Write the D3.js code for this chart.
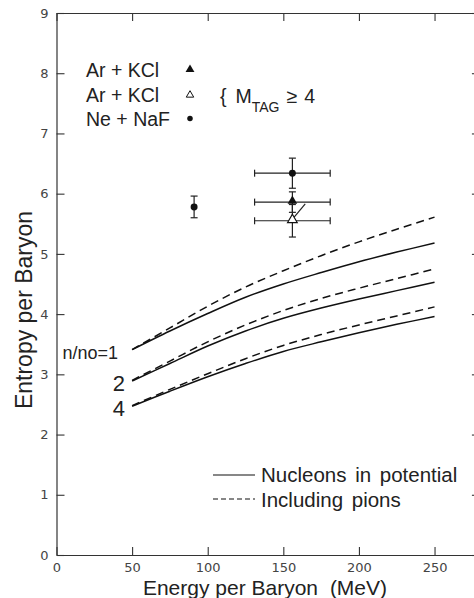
<!DOCTYPE html>
<html><head><meta charset="utf-8">
<script src="https://cdn.jsdelivr.net/npm/d3@7"></script>
<style>
body{margin:0;background:#fff}
text{font-family:"Liberation Sans",Arial,sans-serif;fill:#222}
.tick text{font-family:"DejaVu Sans",sans-serif;fill:#444}
</style></head>
<body><svg id="chart" width="474" height="598"></svg>
<script>
// ---- data ----
const energy = [50, 75, 100, 125, 150, 175, 200, 225, 250];
const n1Nucleons = [3.41, 3.72, 4.01, 4.28, 4.50, 4.69, 4.87, 5.03, 5.18];
const n1Pions    = [3.41, 3.77, 4.13, 4.45, 4.72, 4.97, 5.20, 5.41, 5.61];
const n2Nucleons = [2.89, 3.18, 3.47, 3.72, 3.93, 4.10, 4.25, 4.39, 4.53];
const n2Pions    = [2.90, 3.22, 3.54, 3.82, 4.06, 4.26, 4.43, 4.59, 4.75];
const n4Nucleons = [2.47, 2.72, 2.96, 3.18, 3.38, 3.54, 3.69, 3.83, 3.96];
const n4Pions    = [2.48, 2.75, 3.01, 3.26, 3.48, 3.66, 3.82, 3.97, 4.12];
const curveLabels = ["n/no=1", "2", "4"];

const neNaF_E  = [91, 156];
const neNaF_S  = [5.78, 6.34];
const neNaF_dS = [0.18, 0.25];
const neNaF_dE = [0, 25];

const arKClTag_E  = [156];
const arKClTag_S  = [5.86];
const arKClTag_dS = [0.17];
const arKClTag_dE = [25];

const arKClOpen_E  = [156];
const arKClOpen_S  = [5.55];
const arKClOpen_dS = [0.27];
const arKClOpen_dE = [25];

const connectorE = [164.5, 155.5];
const connectorS = [5.83, 5.56];

const xTicks = [0, 50, 100, 150, 200, 250];
const yTicks = [0, 1, 2, 3, 4, 5, 6, 7, 8, 9];
const legendTop = ["Ar + KCl", "Ar + KCl", "Ne + NaF"];
const legendBottom = ["Nucleons in potential", "Including pions"];

// ---- scales ----
const svg = d3.select("#chart");
const x = d3.scaleLinear().domain([0, 280]).range([56.5, 479.9]);
const y = d3.scaleLinear().domain([0, 9]).range([555, 13]);

const axisStyle = g => {
  g.select(".domain").attr("stroke", "#333").attr("stroke-width", 1.2);
  g.selectAll(".tick line").attr("stroke", "#333").attr("stroke-width", 1.1);
};

svg.append("g").attr("transform", `translate(0,${y(0)})`)
  .call(d3.axisBottom(x).tickValues(xTicks).tickSizeInner(-8).tickSizeOuter(0).tickPadding(6).tickFormat(d3.format("d")))
  .call(axisStyle)
  .call(g => g.selectAll(".tick text").attr("font-size", 13).attr("dy", "0.71em").attr("y", 8));
svg.append("g").attr("transform", `translate(0,${y(9)})`)
  .call(d3.axisTop(x).tickValues(xTicks).tickSizeInner(-8).tickSizeOuter(0).tickFormat(""))
  .call(axisStyle);
svg.append("g").attr("transform", `translate(${x(0)},0)`)
  .call(d3.axisLeft(y).tickValues(yTicks).tickSizeInner(-8).tickSizeOuter(0).tickPadding(8).tickFormat(d3.format("d")))
  .call(axisStyle)
  .call(g => g.selectAll(".tick text").attr("font-size", 13));
svg.append("g").attr("transform", `translate(${x(280)},0)`)
  .call(d3.axisRight(y).tickValues(yTicks).tickSizeInner(-8).tickSizeOuter(0).tickFormat(""))
  .call(axisStyle);

// ---- curves ----
const line = d3.line().x((d, i) => x(energy[i])).y(d => y(d)).curve(d3.curveCatmullRom.alpha(0.5));
const curves = [
  [n1Nucleons, false], [n1Pions, true],
  [n2Nucleons, false], [n2Pions, true],
  [n4Nucleons, false], [n4Pions, true]
];
curves.forEach(([vals, dashed]) => {
  svg.append("path").attr("d", line(vals)).attr("fill", "none")
    .attr("stroke", "#111").attr("stroke-width", 1.5)
    .attr("stroke-dasharray", dashed ? "8,5" : null);
});

// curve labels
svg.append("text").attr("x", 118).attr("y", y(n1Nucleons[0]) + 9).attr("text-anchor", "end")
  .attr("font-size", 18).text(curveLabels[0]);
svg.append("text").attr("x", 125).attr("y", y(n2Nucleons[0]) + 10).attr("text-anchor", "end")
  .attr("font-size", 22).text(curveLabels[1]);
svg.append("text").attr("x", 125).attr("y", y(n4Nucleons[0]) + 10).attr("text-anchor", "end")
  .attr("font-size", 22).text(curveLabels[2]);

// ---- data points with error bars ----
function errorBars(E, S, dS, dE) {
  E.forEach((e, i) => {
    const cx = x(e), cy = y(S[i]);
    const g = svg.append("g").attr("stroke", "#222").attr("stroke-width", 1.2);
    if (dS[i] > 0) {
      g.append("line").attr("x1", cx).attr("x2", cx).attr("y1", y(S[i] + dS[i])).attr("y2", y(S[i] - dS[i]));
      [S[i] + dS[i], S[i] - dS[i]].forEach(v =>
        g.append("line").attr("x1", cx - 3.5).attr("x2", cx + 3.5).attr("y1", y(v)).attr("y2", y(v)));
    }
    if (dE[i] > 0) {
      g.append("line").attr("x1", x(e - dE[i])).attr("x2", x(e + dE[i])).attr("y1", cy).attr("y2", cy);
      [e - dE[i], e + dE[i]].forEach(v =>
        g.append("line").attr("x1", x(v)).attr("x2", x(v)).attr("y1", cy - 3.5).attr("y2", cy + 3.5));
    }
  });
}
errorBars(neNaF_E, neNaF_S, neNaF_dS, neNaF_dE);
errorBars(arKClTag_E, arKClTag_S, arKClTag_dS, arKClTag_dE);
errorBars(arKClOpen_E, arKClOpen_S, arKClOpen_dS, arKClOpen_dE);

svg.append("path")
  .attr("d", d3.line().x((d, i) => x(connectorE[i])).y(d => y(d))(connectorS))
  .attr("stroke", "#222").attr("stroke-width", 1.2).attr("fill", "none");

const tri = d3.symbol().type(d3.symbolTriangle).size(40);
const dot = d3.symbol().type(d3.symbolCircle).size(38);
neNaF_E.forEach((e, i) => svg.append("path").attr("d", dot())
  .attr("transform", `translate(${x(e)},${y(neNaF_S[i])})`).attr("fill", "#111"));
arKClTag_E.forEach((e, i) => svg.append("path").attr("d", tri())
  .attr("transform", `translate(${x(e)},${y(arKClTag_S[i]) - 1})`).attr("fill", "#111"));
arKClOpen_E.forEach((e, i) => svg.append("path").attr("d", tri())
  .attr("transform", `translate(${x(e)},${y(arKClOpen_S[i]) - 1})`).attr("fill", "#fff")
  .attr("stroke", "#111").attr("stroke-width", 1.2));

// ---- top legend ----
const topBase = [77.3, 102.3, 125.7];
legendTop.forEach((t, i) => svg.append("text").attr("x", 86).attr("y", topBase[i])
  .attr("font-size", 19.5).text(t));
svg.append("path").attr("d", d3.symbol().type(d3.symbolTriangle).size(34)())
  .attr("transform", "translate(190,69.5)").attr("fill", "#111");
svg.append("path").attr("d", d3.symbol().type(d3.symbolTriangle).size(24)())
  .attr("transform", "translate(190,95)").attr("fill", "#fff").attr("stroke", "#111").attr("stroke-width", 1);
svg.append("path").attr("d", d3.symbol().type(d3.symbolCircle).size(24)())
  .attr("transform", "translate(190,118.5)").attr("fill", "#111");

const mt = svg.append("text").attr("x", 220).attr("y", 103.3).attr("font-size", 19.5);
mt.append("tspan").text("{");
mt.append("tspan").attr("dx", 9).text("M");
mt.append("tspan").attr("font-size", 14).attr("dy", 9).text("TAG");
mt.append("tspan").attr("dy", -9).attr("dx", 7).text("\u2265");
mt.append("tspan").attr("dx", 7).text("4");

// ---- bottom legend ----
svg.append("line").attr("x1", 213).attr("x2", 255).attr("y1", 475).attr("y2", 475)
  .attr("stroke", "#111").attr("stroke-width", 1.2);
svg.append("line").attr("x1", 213).attr("x2", 255).attr("y1", 499).attr("y2", 499)
  .attr("stroke", "#111").attr("stroke-width", 1.2).attr("stroke-dasharray", "5,3");
svg.append("text").attr("x", 261).attr("y", 481.7).attr("font-size", 20.5)
  .attr("word-spacing", 3).text(legendBottom[0]);
svg.append("text").attr("x", 261).attr("y", 506.7).attr("font-size", 20.5)
  .attr("word-spacing", 3).text(legendBottom[1]);

// ---- axis titles ----
const xt = svg.append("text").attr("x", 265).attr("y", 595).attr("text-anchor", "middle").attr("font-size", 21);
xt.append("tspan").text("Energy per Baryon");
xt.append("tspan").attr("dx", 6).text(" (MeV)");
svg.append("text").attr("transform", "translate(32,310) rotate(-90)")
  .attr("text-anchor", "middle").attr("font-size", 23).text("Entropy per Baryon");
</script>
</body></html>
